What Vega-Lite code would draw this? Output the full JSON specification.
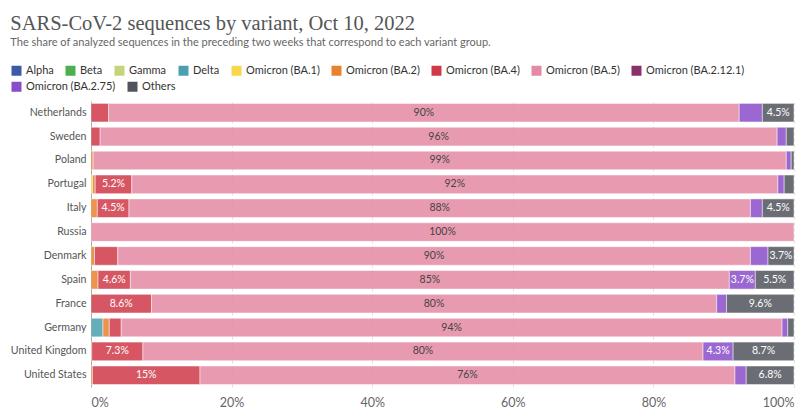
{
  "$schema": "https://vega.github.io/schema/vega-lite/v6.json",
  "width": 812,
  "height": 419,
  "autosize": {"type": "fit", "contains": "padding"},
  "padding": {"left": 10, "right": 17, "top": 13, "bottom": 10},
  "title": {
    "text": "SARS-CoV-2 sequences by variant, Oct 10, 2022",
    "subtitle": "The share of analyzed sequences in the preceding two weeks that correspond to each variant group.",
    "anchor": "start",
    "frame": "bounds",
    "font": "Liberation Serif",
    "fontSize": 20.5,
    "fontWeight": "normal",
    "color": "#555555",
    "subtitleFont": "Lato",
    "subtitleFontSize": 11,
    "subtitleColor": "#666666",
    "subtitlePadding": 3,
    "offset": 53
  },
  "config": {"view": {"stroke": null}, "font": "Lato"},
  "data": {
    "values": [
      {"country": "Netherlands", "variant": "Omicron (BA.4)", "share": 0.025},
      {"country": "Netherlands", "variant": "Omicron (BA.5)", "share": 0.897},
      {"country": "Netherlands", "variant": "Omicron (BA.2.75)", "share": 0.033},
      {"country": "Netherlands", "variant": "Others", "share": 0.045},
      {"country": "Sweden", "variant": "Omicron (BA.4)", "share": 0.013},
      {"country": "Sweden", "variant": "Omicron (BA.5)", "share": 0.963},
      {"country": "Sweden", "variant": "Omicron (BA.2.75)", "share": 0.013},
      {"country": "Sweden", "variant": "Others", "share": 0.011},
      {"country": "Poland", "variant": "Omicron (BA.2)", "share": 0.003},
      {"country": "Poland", "variant": "Omicron (BA.5)", "share": 0.986},
      {"country": "Poland", "variant": "Omicron (BA.2.75)", "share": 0.007},
      {"country": "Poland", "variant": "Others", "share": 0.004},
      {"country": "Portugal", "variant": "Omicron (BA.1)", "share": 0.002},
      {"country": "Portugal", "variant": "Omicron (BA.2)", "share": 0.004},
      {"country": "Portugal", "variant": "Omicron (BA.4)", "share": 0.052},
      {"country": "Portugal", "variant": "Omicron (BA.5)", "share": 0.919},
      {"country": "Portugal", "variant": "Omicron (BA.2.75)", "share": 0.009},
      {"country": "Portugal", "variant": "Others", "share": 0.014},
      {"country": "Italy", "variant": "Omicron (BA.2)", "share": 0.009},
      {"country": "Italy", "variant": "Omicron (BA.4)", "share": 0.045},
      {"country": "Italy", "variant": "Omicron (BA.5)", "share": 0.884},
      {"country": "Italy", "variant": "Omicron (BA.2.75)", "share": 0.017},
      {"country": "Italy", "variant": "Others", "share": 0.045},
      {"country": "Russia", "variant": "Omicron (BA.5)", "share": 1.0},
      {"country": "Denmark", "variant": "Omicron (BA.2)", "share": 0.005},
      {"country": "Denmark", "variant": "Omicron (BA.4)", "share": 0.033},
      {"country": "Denmark", "variant": "Omicron (BA.5)", "share": 0.9},
      {"country": "Denmark", "variant": "Omicron (BA.2.75)", "share": 0.025},
      {"country": "Denmark", "variant": "Others", "share": 0.037},
      {"country": "Spain", "variant": "Omicron (BA.2)", "share": 0.01},
      {"country": "Spain", "variant": "Omicron (BA.4)", "share": 0.046},
      {"country": "Spain", "variant": "Omicron (BA.5)", "share": 0.852},
      {"country": "Spain", "variant": "Omicron (BA.2.75)", "share": 0.037},
      {"country": "Spain", "variant": "Others", "share": 0.055},
      {"country": "France", "variant": "Omicron (BA.4)", "share": 0.086},
      {"country": "France", "variant": "Omicron (BA.5)", "share": 0.804},
      {"country": "France", "variant": "Omicron (BA.2.75)", "share": 0.014},
      {"country": "France", "variant": "Others", "share": 0.096},
      {"country": "Germany", "variant": "Delta", "share": 0.017},
      {"country": "Germany", "variant": "Omicron (BA.2)", "share": 0.009},
      {"country": "Germany", "variant": "Omicron (BA.4)", "share": 0.017},
      {"country": "Germany", "variant": "Omicron (BA.5)", "share": 0.94},
      {"country": "Germany", "variant": "Omicron (BA.2.75)", "share": 0.008},
      {"country": "Germany", "variant": "Others", "share": 0.009},
      {"country": "United Kingdom", "variant": "Omicron (BA.2)", "share": 0.001},
      {"country": "United Kingdom", "variant": "Omicron (BA.4)", "share": 0.0728},
      {"country": "United Kingdom", "variant": "Omicron (BA.5)", "share": 0.7968},
      {"country": "United Kingdom", "variant": "Omicron (BA.2.75)", "share": 0.0428},
      {"country": "United Kingdom", "variant": "Others", "share": 0.0866},
      {"country": "United States", "variant": "Omicron (BA.2)", "share": 0.002},
      {"country": "United States", "variant": "Omicron (BA.4)", "share": 0.153},
      {"country": "United States", "variant": "Omicron (BA.5)", "share": 0.761},
      {"country": "United States", "variant": "Omicron (BA.2.75)", "share": 0.016},
      {"country": "United States", "variant": "Others", "share": 0.068}
    ]
  },
  "transform": [
    {"calculate": "indexof(['Alpha','Beta','Gamma','Delta','Omicron (BA.1)','Omicron (BA.2)','Omicron (BA.4)','Omicron (BA.5)','Omicron (BA.2.12.1)','Omicron (BA.2.75)','Others'], datum.variant)", "as": "k"},
    {"stack": "share", "groupby": ["country"], "sort": [{"field": "k", "order": "ascending"}], "as": ["s0", "s1"]},
    {"calculate": "(datum.s0 + datum.s1) / 2", "as": "mid"}
  ],
  "encoding": {
    "y": {
      "field": "country",
      "type": "nominal",
      "sort": ["Netherlands", "Sweden", "Poland", "Portugal", "Italy", "Russia", "Denmark", "Spain", "France", "Germany", "United Kingdom", "United States"],
      "scale": {"paddingInner": 0.22, "paddingOuter": 0.1},
      "axis": {
        "title": null,
        "labelFontSize": 10.6,
        "labelFont": "Lato",
        "labelColor": "#555555",
        "ticks": false,
        "domain": true,
        "domainColor": "#aaaaaa",
        "labelPadding": 5
      }
    }
  },
  "resolve": {"scale": {"color": "independent"}, "legend": {"color": "independent"}},
  "layer": [
    {
      "transform": [{"filter": "datum.k < 9"}],
      "mark": {"type": "bar", "opacity": 0.85, "stroke": "white", "strokeWidth": 0.5},
      "encoding": {
        "x": {
          "field": "s0",
          "type": "quantitative",
          "scale": {"domain": [0, 1], "nice": false},
          "axis": {
            "title": null,
            "format": ".0%",
            "values": [0, 0.2, 0.4, 0.6, 0.8, 1],
            "labelFontSize": 12.5,
            "labelFont": "Lato",
            "labelColor": "#666666",
            "ticks": false,
            "domain": false,
            "grid": true,
            "gridDash": [3, 3],
            "gridColor": "#dddddd",
            "labelFlush": true,
            "labelPadding": 9
          }
        },
        "x2": {"field": "s1"},
        "color": {
          "field": "variant",
          "type": "nominal",
          "scale": {
            "domain": ["Alpha", "Beta", "Gamma", "Delta", "Omicron (BA.1)", "Omicron (BA.2)", "Omicron (BA.4)", "Omicron (BA.5)", "Omicron (BA.2.12.1)"],
            "range": ["#3c5aa6", "#4caf50", "#c4d47a", "#4c9fae", "#f6d84a", "#e9822f", "#cf3a48", "#e48aa3", "#8b3168"]
          },
          "legend": {
            "title": null,
            "orient": "none",
            "legendX": -80,
            "legendY": -36,
            "direction": "horizontal",
            "symbolType": "square",
            "symbolSize": 100,
            "symbolOpacity": 1,
            "symbolStrokeWidth": 0,
            "labelFontSize": 11,
            "labelFont": "Lato",
            "labelColor": "#333333",
            "labelOffset": 4,
            "columnPadding": 11
          }
        }
      }
    },
    {
      "transform": [{"filter": "datum.k >= 9"}],
      "mark": {"type": "bar", "opacity": 0.85, "stroke": "white", "strokeWidth": 0.5},
      "encoding": {
        "x": {"field": "s0", "type": "quantitative"},
        "x2": {"field": "s1"},
        "color": {
          "field": "variant",
          "type": "nominal",
          "scale": {
            "domain": ["Omicron (BA.2.75)", "Others"],
            "range": ["#8a4dc9", "#51545c"]
          },
          "legend": {
            "title": null,
            "orient": "none",
            "legendX": -80,
            "legendY": -20,
            "direction": "horizontal",
            "symbolType": "square",
            "symbolSize": 100,
            "symbolOpacity": 1,
            "symbolStrokeWidth": 0,
            "labelFontSize": 11,
            "labelFont": "Lato",
            "labelColor": "#333333",
            "labelOffset": 4,
            "columnPadding": 11
          }
        }
      }
    },
    {
      "transform": [{"filter": "datum.share >= 0.035"}],
      "mark": {"type": "text", "fontSize": 10.5, "font": "Lato"},
      "encoding": {
        "x": {"field": "mid", "type": "quantitative"},
        "text": {"field": "share", "type": "quantitative", "format": ".2~p"},
        "color": {
          "condition": {"test": "datum.variant === 'Omicron (BA.5)'", "value": "#444444"},
          "value": "#ffffff"
        }
      }
    }
  ]
}
